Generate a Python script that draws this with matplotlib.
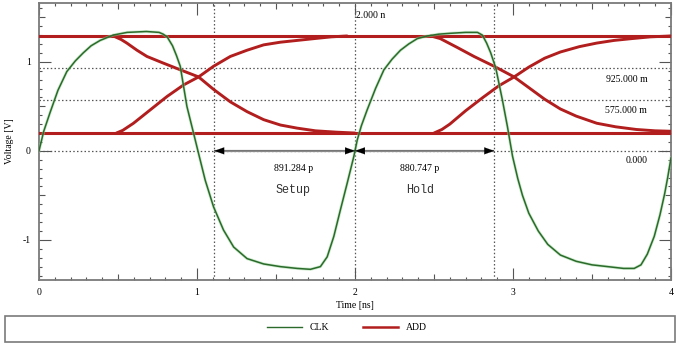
import matplotlib
matplotlib.use('Agg')
from matplotlib import pyplot as plt
from matplotlib.patches import Rectangle
from matplotlib.ticker import MultipleLocator, FuncFormatter
import numpy as np

plt.rcParams['axes.unicode_minus'] = False
plt.rcParams['font.family'] = 'Liberation Serif'

# CLK trace (time in ns, voltage in V)
clk_t = [0.00, 0.03, 0.07, 0.12, 0.176, 0.23, 0.28, 0.33, 0.387, 0.47, 0.558, 0.68, 0.76,
         0.786, 0.811, 0.845, 0.87, 0.894, 0.936, 0.978, 1.01, 1.052, 1.105, 1.168,
         1.232, 1.317, 1.422, 1.528, 1.634, 1.718, 1.781, 1.824, 1.866, 1.908, 1.951,
         1.993, 2.014, 2.04, 2.077, 2.13, 2.183, 2.235, 2.288, 2.34, 2.394, 2.458, 2.53,
         2.605, 2.70, 2.775, 2.806, 2.833, 2.859, 2.891, 2.933, 2.965, 2.997, 3.03, 3.06,
         3.10, 3.16, 3.22, 3.30, 3.40, 3.50, 3.60, 3.70, 3.767, 3.81, 3.85, 3.894, 3.93,
         3.96, 3.979, 4.00]
clk_v = [0.00, 0.22, 0.43, 0.68, 0.89, 1.01, 1.10, 1.18, 1.24, 1.30, 1.33, 1.34, 1.33,
         1.31, 1.28, 1.18, 1.07, 0.95, 0.50, 0.20, -0.03, -0.33, -0.63, -0.89,
         -1.08, -1.21, -1.27, -1.30, -1.32, -1.33, -1.30, -1.19, -0.96, -0.66, -0.36,
         -0.06, 0.12, 0.28, 0.46, 0.70, 0.91, 1.03, 1.13, 1.20, 1.26, 1.29, 1.31,
         1.32, 1.33, 1.33, 1.30, 1.21, 1.10, 0.93, 0.57, 0.27, -0.06, -0.31, -0.50,
         -0.70, -0.90, -1.05, -1.17, -1.24, -1.28, -1.30, -1.32, -1.32, -1.28, -1.16, -0.96,
         -0.72, -0.48, -0.30, -0.08]

# ADD eye: steady levels and the transitions of two cycles
add_high = 1.29
add_low = 0.20
fall1_t = [0.47, 0.52, 0.556, 0.62, 0.683, 0.78, 0.894, 1.01, 1.105, 1.211, 1.317, 1.422,
           1.528, 1.634, 1.75, 1.88, 2.0]
fall1_v = [1.29, 1.25, 1.21, 1.13, 1.06, 0.99, 0.91, 0.83, 0.69, 0.55, 0.44, 0.35,
           0.29, 0.255, 0.225, 0.21, 0.20]
rise1_t = [0.49, 0.53, 0.598, 0.704, 0.81, 0.915, 1.01, 1.105, 1.211, 1.317, 1.422, 1.528,
           1.634, 1.74, 1.85, 1.95]
rise1_v = [0.20, 0.23, 0.31, 0.46, 0.61, 0.74, 0.83, 0.95, 1.06, 1.13, 1.19, 1.22,
           1.24, 1.26, 1.28, 1.29]
fall2_t = [2.48, 2.54, 2.648, 2.753, 2.88, 3.007, 3.10, 3.20, 3.30, 3.40, 3.53, 3.65,
           3.78, 3.90, 4.0]
fall2_v = [1.29, 1.26, 1.16, 1.06, 0.95, 0.83, 0.71, 0.58, 0.47, 0.39, 0.31, 0.27,
           0.24, 0.225, 0.22]
rise2_t = [2.50, 2.55, 2.60, 2.70, 2.81, 2.91, 3.007, 3.10, 3.20, 3.30, 3.42, 3.53, 3.64,
           3.75, 3.87, 4.0]
rise2_v = [0.20, 0.24, 0.30, 0.45, 0.60, 0.73, 0.83, 0.94, 1.04, 1.11, 1.17, 1.21, 1.24,
           1.26, 1.28, 1.29]

# cursors
t_setup = 1.109
t_clk = 2.000
t_hold = 2.881
v_marks = [0.925, 0.575, 0.0]
v_labels = ['925.000 m', '575.000 m', '0.000']
setup_txt = '891.284 p'
hold_txt = '880.747 p'

red = '#b21e1e'
green = '#2a6a2a'
grid_c = '#555555'

fig = plt.figure(figsize=(6.8, 3.44), dpi=100)
ax = fig.add_axes([39/680, 1-280/344, 632/680, 277/344])

ax.set_xlim(0, 4)
ax.set_ylim(-1.45, 1.66)

# cursor lines
for v in v_marks:
    ax.axhline(v, color=grid_c, ls=(0, (1.2, 1.8)), lw=0.9, zorder=1)
for t in [t_setup, t_clk, t_hold]:
    ax.axvline(t, color=grid_c, ls=(0, (1.2, 1.8)), lw=0.9, zorder=1)

# ADD
ax.axhline(add_high, color=red, lw=2.2, zorder=3)
ax.axhline(add_low, color=red, lw=2.2, zorder=3)
for tt, vv in [(fall1_t, fall1_v), (rise1_t, rise1_v), (fall2_t, fall2_v), (rise2_t, rise2_v)]:
    ax.plot(tt, vv, color=red, lw=2.1, solid_capstyle='round', solid_joinstyle='round',
            zorder=3)

# CLK
ax.plot(clk_t, clk_v, color='#9fd89f', lw=2.2, alpha=0.5, zorder=4,
        solid_joinstyle='round')
ax.plot(clk_t, clk_v, color=green, lw=1.1, zorder=5, solid_joinstyle='round')

# setup / hold arrows
ax.hlines(0, t_setup, t_hold, color='#8a8a8a', lw=1.6, zorder=2)
for a, b in [(t_setup, t_clk), (t_clk, t_hold)]:
    ax.annotate('', xy=(b, 0), xytext=(a, 0),
                arrowprops=dict(arrowstyle='<|-|>,head_length=0.7,head_width=0.25',
                                color='black', lw=0.1, shrinkA=0, shrinkB=0),
                zorder=6)

ax.text(1.61, -0.2, setup_txt, fontsize=7, ha='center', va='center')
ax.text(2.41, -0.2, hold_txt, fontsize=7, ha='center', va='center')
ax.text(1.61, -0.44, 'Setup', fontsize=8.5, family='Liberation Mono', color='#333333',
        ha='center', va='center')
ax.text(2.41, -0.44, 'Hold', fontsize=8.5, family='Liberation Mono', color='#333333',
        ha='center', va='center')
ax.text(t_clk + 0.005, 1.52, '2.000 n', fontsize=7, ha='left', va='center')
for v, lab, dy in zip(v_marks, v_labels, [-0.12, -0.12, -0.11]):
    ax.text(3.85, v + dy, lab, fontsize=7, ha='right', va='center')

# axes styling
for s in ax.spines.values():
    s.set_color('#7a7a7a')
    s.set_linewidth(1.3)
ax.xaxis.set_major_locator(MultipleLocator(0.5))
ax.xaxis.set_minor_locator(MultipleLocator(0.1))
ax.yaxis.set_major_locator(MultipleLocator(0.5))
ax.yaxis.set_minor_locator(MultipleLocator(0.1))
fmt = FuncFormatter(lambda x, p: '%d' % round(x) if abs(x - round(x)) < 1e-6 else '')
ax.xaxis.set_major_formatter(fmt)
ax.yaxis.set_major_formatter(fmt)
ax.tick_params(which='both', direction='in', top=True, right=True, color='#555555',
               labelsize=7, width=0.8)
ax.tick_params(which='major', length=4.2, pad=6)
ax.tick_params(which='minor', length=2.2)
ax.set_xlabel('Time [ns]', fontsize=7, labelpad=3)
ax.set_ylabel('Voltage [V]', fontsize=7, labelpad=6)

# longer ticks on whole units
fig.canvas.draw()
for axis in [ax.xaxis, ax.yaxis]:
    for tk in axis.get_major_ticks():
        loc = tk.get_loc()
        if abs(loc - round(loc)) < 1e-6:
            tk.tick1line.set_markersize(8.6)
            tk.tick2line.set_markersize(8.6)

# legend box
fig.patches.append(Rectangle((5/680, 2/344), 670/680, 26/344, transform=fig.transFigure,
                             fill=False, edgecolor='#7a7a7a', lw=1.2))
h1, = ax.plot([], [], color=green, lw=1.0, label='CLK')
h2, = ax.plot([], [], color=red, lw=1.8, label='ADD')
fig.legend(handles=[h1, h2], loc='center', bbox_to_anchor=(0.51, 1-328/344), ncol=2,
           frameon=False, fontsize=7, handlelength=3.6, columnspacing=3.5)

fig.savefig('out.png', dpi=100)
